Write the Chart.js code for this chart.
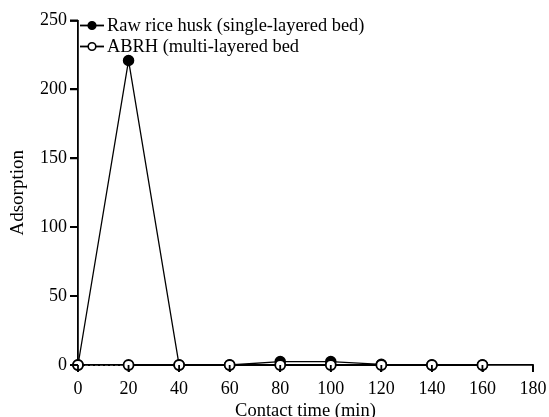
<!DOCTYPE html>
<html>
<head>
<meta charset="utf-8">
<script src="https://cdn.jsdelivr.net/npm/chart.js@4"></script>
<style>
  html, body { margin: 0; padding: 0; background: #fff; }
</style>
</head>
<body>
<canvas id="grafica" width="549" height="417"></canvas>
<script>
const tiempo = [0, 20, 40, 60, 80, 100, 120, 140, 160];
const cascarilla_cruda = [0, 221, 0, 0, 2.5, 2.5, 0.5, 0, 0];
const abrh = [0, 0, 0, 0, 0, 0, 0, 0, 0];
const etiquetas = ['Raw rice husk (single-layered bed)', 'ABRH (multi-layered bed'];
const ticks_x = [0, 20, 40, 60, 80, 100, 120, 140, 160, 180];
const ticks_y = [0, 50, 100, 150, 200, 250];

const fuente = 'Liberation Serif';

// marcas de los ejes hacia fuera
const marcas = {
  id: 'marcas',
  afterDraw(chart) {
    const ctx = chart.ctx;
    const a = chart.chartArea;
    const sx = chart.scales.x, sy = chart.scales.y;
    ctx.save();
    ctx.strokeStyle = '#000';
    ctx.lineWidth = 1.8;
    ctx.beginPath();
    ticks_x.forEach(v => {
      const px = sx.getPixelForValue(v);
      ctx.moveTo(px, a.bottom);
      ctx.lineTo(px, a.bottom + 7);
    });
    ticks_y.forEach(v => {
      const py = sy.getPixelForValue(v);
      ctx.moveTo(a.left, py);
      ctx.lineTo(a.left - 8, py);
    });
    ctx.stroke();
    ctx.restore();
  }
};

// leyenda dibujada a mano: linea - circulo - linea, como en la figura
const leyenda = {
  id: 'leyenda',
  afterDraw(chart) {
    const ctx = chart.ctx;
    const x0 = chart.chartArea.left + 2;
    let y = chart.chartArea.top + 5;
    chart.data.datasets.forEach(ds => {
      ctx.save();
      ctx.strokeStyle = '#000';
      ctx.lineWidth = 1.8;
      ctx.beginPath();
      ctx.moveTo(x0, y);
      ctx.lineTo(x0 + 24, y);
      ctx.stroke();
      ctx.beginPath();
      ctx.arc(x0 + 12, y, 3.8, 0, Math.PI * 2);
      ctx.fillStyle = ds.pointBackgroundColor;
      ctx.fill();
      ctx.lineWidth = 1.6;
      ctx.stroke();
      ctx.fillStyle = '#000';
      ctx.font = '18.4px "' + fuente + '"';
      ctx.textBaseline = 'middle';
      ctx.fillText(ds.label, x0 + 27, y + 1);
      ctx.restore();
      y += 21;
    });
  }
};

const ctx = document.getElementById('grafica').getContext('2d');
new Chart(ctx, {
  type: 'line',
  data: {
    datasets: [{
      label: etiquetas[0],
      data: tiempo.map((t, i) => ({ x: t, y: cascarilla_cruda[i] })),
      borderColor: '#000',
      borderWidth: 1.3,
      pointRadius: 5,
      pointBackgroundColor: '#000',
      pointBorderColor: '#000',
      pointBorderWidth: 1.5,
      clip: false,
      order: 1
    }, {
      label: etiquetas[1],
      data: tiempo.map((t, i) => ({ x: t, y: abrh[i] })),
      borderColor: '#000',
      borderWidth: 2,
      pointRadius: 5,
      pointBackgroundColor: '#fff',
      pointBorderColor: '#000',
      pointBorderWidth: 1.8,
      clip: false,
      order: 0,
      segment: {
        borderDash: c => c.p0DataIndex === 0 ? [2, 3] : undefined
      }
    }]
  },
  options: {
    responsive: false,
    animation: false,
    layout: { padding: { left: 0, right: 16, top: 20.5, bottom: 0 } },
    plugins: {
      legend: { display: false },
      tooltip: { enabled: false }
    },
    scales: {
      x: {
        type: 'linear',
        min: 0,
        max: 180,
        afterBuildTicks: s => { s.ticks = ticks_x.map(v => ({ value: v })); },
        afterFit: s => { s.height = 52; s.paddingRight = 14; },
        ticks: { color: '#000', font: { family: fuente, size: 18 }, padding: 6.5 },
        grid: { drawOnChartArea: false, drawTicks: true, tickLength: 7, color: '#000', lineWidth: 1.8 },
        border: { color: '#000', width: 1.8 },
        title: { display: true, text: 'Contact time (min)', color: '#000', font: { family: fuente, size: 18.5, lineHeight: 1 }, padding: { top: 0, bottom: -3 } }
      },
      y: {
        min: 0,
        max: 250,
        afterBuildTicks: s => { s.ticks = ticks_y.map(v => ({ value: v })); },
        afterFit: s => { s.width = 78; },
        ticks: { color: '#000', font: { family: fuente, size: 18 }, padding: 3 },
        grid: { drawOnChartArea: false, drawTicks: true, tickLength: 8, color: '#000', lineWidth: 1.8 },
        border: { color: '#000', width: 1.8 },
        title: { display: true, text: 'Adsorption', color: '#000', font: { family: fuente, size: 19, lineHeight: 1 }, padding: { top: 9, bottom: 0 } }
      }
    }
  },
  plugins: [marcas, leyenda]
});
</script>
</body>
</html>
